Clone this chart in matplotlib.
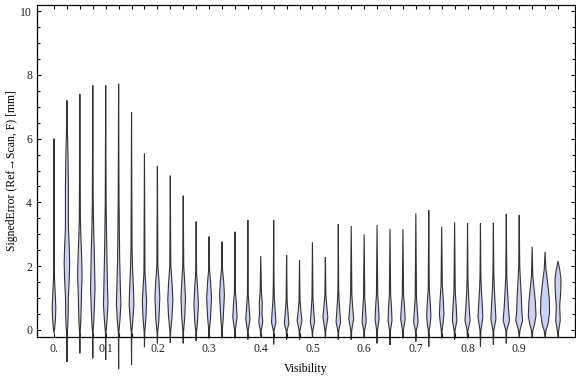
import matplotlib.pyplot as plt

# violins sit at visibility bins of width 0.025
vis = [round(0.025 * i, 3) for i in range(40)]

# range of each violin (tail ends) in mm
err_min = [-0.10, -1.00, -0.73, -0.89, -0.94, -1.23, -1.10, -0.54, -0.42, -0.40,
           -0.42, -0.34, -0.26, -0.26, -0.26, -0.30, -0.20, -0.45, -0.30, -0.30,
           -0.20, -0.26, -0.30, -0.30, -0.26, -0.42, -0.47, -0.26, -0.36, -0.52,
           -0.26, -0.30, -0.26, -0.52, -0.47, -0.42, -0.26, -0.26, -0.26, -0.26]
err_max = [6.00, 7.20, 7.40, 7.67, 7.67, 7.72, 6.83, 5.53, 5.14, 4.84,
           4.21, 3.40, 2.93, 2.77, 3.08, 3.45, 2.32, 3.44, 2.35, 2.19,
           2.74, 2.28, 3.32, 3.26, 3.00, 3.29, 3.17, 3.16, 3.66, 3.75,
           3.24, 3.38, 3.34, 3.34, 3.36, 3.64, 3.60, 2.61, 2.45, 2.16]

# density profile inside each violin: values (mm) and relative widths
prof_y = [
    [0.05, 0.35, 0.7, 1.1, 1.6, 2.5],
    [-0.1, 0.1, 0.5, 1.0, 1.6, 2.1, 2.6, 3.2, 4.5, 5.5, 6.3],
    [-0.1, 0.2, 0.8, 1.2, 1.7, 2.2, 2.9, 3.5, 5.0],
    [-0.1, 0.3, 0.8, 1.3, 1.8, 2.5, 3.2, 4.0],
    [-0.1, 0.2, 0.8, 1.4, 2.2, 3.0, 4.0],
    [-0.1, 0.3, 0.8, 1.4, 2.2, 3.0, 4.0],
    [-0.1, 0.3, 0.8, 1.3, 1.9, 2.6],
    [-0.1, 0.4, 0.9, 1.4, 1.8],
    [-0.1, 0.3, 1.0, 1.5, 2.0],
    [-0.1, 0.4, 0.95, 1.5, 2.0],
    [-0.1, 0.4, 1.0, 1.5, 2.0],
    [-0.1, 0.3, 0.8, 1.3, 1.8],
    [-0.05, 0.4, 1.0, 1.5, 1.9],
    [-0.05, 0.4, 1.1, 1.5, 1.9],
    [-0.05, 0.4, 0.8, 1.2, 1.8],
    [-0.05, 0.35, 0.7, 1.1],
    [-0.02, 0.25, 0.5, 0.85, 1.2],
    [-0.05, 0.25, 0.6, 1.0, 1.5],
    [-0.02, 0.2, 0.5, 0.9],
    [-0.02, 0.3, 0.55, 0.9],
    [-0.02, 0.25, 0.6, 1.0],
    [-0.02, 0.4, 0.8, 1.1],
    [-0.02, 0.25, 0.6, 1.0, 1.4],
    [-0.02, 0.35, 0.7, 1.1],
    [-0.02, 0.25, 0.6, 1.0],
    [-0.02, 0.35, 0.7, 1.1],
    [-0.02, 0.3, 0.7, 1.1],
    [-0.02, 0.35, 0.7, 1.1],
    [-0.02, 0.25, 0.6, 1.0],
    [-0.02, 0.2, 0.45, 0.85, 1.3],
    [-0.02, 0.25, 0.5, 0.9, 1.4],
    [-0.02, 0.3, 0.7, 1.2],
    [-0.02, 0.3, 0.7, 1.2, 1.6],
    [-0.02, 0.4, 0.8, 1.3, 1.7],
    [-0.02, 0.35, 0.8, 1.3, 1.8],
    [-0.02, 0.3, 0.7, 1.2, 1.7],
    [-0.02, 0.3, 0.6, 1.0, 1.5, 2.0],
    [-0.02, 0.2, 0.45, 0.9, 1.3, 1.7],
    [-0.02, 0.2, 0.55, 0.95, 1.3, 1.6, 1.9],
    [-0.02, 0.3, 0.75, 1.2, 1.6, 1.9],
]
prof_w = [
    [1.5, 3.5, 4.3, 3.0, 1.2, 0.8],
    [0.5, 2.0, 3.0, 3.3, 5.5, 6.5, 5.5, 3.5, 3.5, 2.5, 1.0],
    [0.5, 2.0, 3.3, 4.0, 5.3, 4.5, 2.5, 1.2, 0.8],
    [0.5, 2.5, 4.0, 5.3, 4.5, 3.5, 2.0, 1.0],
    [0.5, 2.5, 5.3, 4.2, 3.0, 2.0, 1.0],
    [0.5, 3.0, 5.3, 4.0, 2.5, 1.8, 1.0],
    [0.5, 3.0, 5.6, 4.5, 2.5, 1.2],
    [0.5, 3.5, 5.0, 3.0, 1.2],
    [0.5, 3.5, 5.7, 4.0, 1.2],
    [0.5, 4.0, 6.0, 4.0, 1.2],
    [0.5, 3.5, 5.3, 3.5, 1.2],
    [0.5, 3.5, 5.3, 3.5, 1.0],
    [0.5, 3.5, 5.7, 3.5, 1.0],
    [0.5, 3.0, 5.7, 4.0, 1.2],
    [0.5, 5.0, 3.5, 1.2, 0.8],
    [0.5, 5.0, 3.0, 1.0],
    [1.0, 4.7, 3.0, 3.5, 1.5],
    [0.5, 5.3, 3.5, 1.5, 0.8],
    [1.0, 5.3, 3.5, 1.2],
    [1.0, 5.7, 3.5, 1.2],
    [1.0, 5.0, 3.0, 1.2],
    [1.0, 5.7, 3.0, 1.2],
    [1.0, 5.3, 3.5, 1.5, 0.8],
    [1.0, 5.7, 3.5, 1.5],
    [1.0, 4.7, 3.5, 1.5],
    [1.0, 4.7, 3.5, 1.5],
    [1.0, 4.7, 3.5, 1.5],
    [1.0, 5.3, 3.8, 1.5],
    [1.0, 5.3, 3.5, 1.5],
    [1.0, 3.5, 5.0, 3.5, 1.2],
    [1.0, 3.5, 5.3, 4.0, 1.5],
    [1.0, 5.3, 4.0, 1.5],
    [1.0, 6.0, 4.0, 2.0, 1.0],
    [1.0, 5.7, 4.2, 2.0, 1.0],
    [1.0, 6.0, 4.2, 2.2, 1.0],
    [1.0, 7.5, 5.0, 3.0, 1.2],
    [1.5, 8.0, 6.0, 5.0, 3.0, 1.2],
    [1.5, 6.0, 9.0, 7.5, 4.5, 1.5],
    [2.0, 7.0, 10.7, 10.0, 7.5, 5.0, 2.0],
    [1.5, 5.3, 4.0, 6.5, 7.0, 4.0],
]

xtick_pos = [0.0, 0.1, 0.2, 0.3, 0.4, 0.5, 0.6, 0.7, 0.8, 0.9]
xtick_lab = ["0.", "0.1", "0.2", "0.3", "0.4", "0.5", "0.6", "0.7", "0.8", "0.9"]

plt.rcParams['font.family'] = ['Liberation Serif', 'DejaVu Serif']
plt.rcParams['font.size'] = 8.5

fig = plt.figure(figsize=(5.76, 3.77), dpi=100)
ax = fig.add_axes([37 / 576, 1 - 337 / 377, 538 / 576, 332 / 377])

wscale = 0.85 * 0.025 / 12.92 / 2  # relative width -> half width in visibility units
for i, x in enumerate(vis):
    ys = [err_min[i]] + prof_y[i] + [err_max[i]]
    ws = [0.0] + prof_w[i] + [0.0]
    right = [x + w * wscale for w in ws]
    left = [x - w * wscale for w in ws]
    ax.fill(right + left[::-1], ys + ys[::-1], facecolor='#cbd1f4',
            edgecolor='#333333', linewidth=0.8, clip_on=False, zorder=2)

ax.set_xlim(-0.0329, 1.0079)
ax.set_ylim(-0.22, 10.19)

ax.set_xticks(xtick_pos)
ax.set_xticklabels(xtick_lab)
ax.set_xticks(vis, minor=True)
ax.set_yticks([0, 2, 4, 6, 8, 10])
ax.set_yticklabels(["0", "2", "4", "6", "8", "10"])
ax.set_yticks([v * 0.5 for v in range(21)], minor=True)

ax.tick_params(axis='x', which='both', direction='in', top=True, bottom=True,
               length=3, width=0.8, pad=4.5, labelcolor='#222222')
ax.tick_params(axis='y', which='major', direction='in', left=True, right=True,
               length=3, width=0.8, pad=3.5, labelcolor='#222222')
ax.tick_params(axis='y', which='minor', direction='in', left=True, right=True,
               length=2, width=0.8)
for s in ax.spines.values():
    s.set_linewidth(0.9)

fig.text(306 / 576, 1 - 369 / 377, "Visibility", ha='center', va='center',
         fontsize=8.5)
fig.text(12 / 576, 1 - 171 / 377, "SignedError (Ref\u2192Scan, F) [mm]",
         rotation=90, ha='center', va='center', fontsize=8.5)

fig.savefig("out.png", dpi=100)
